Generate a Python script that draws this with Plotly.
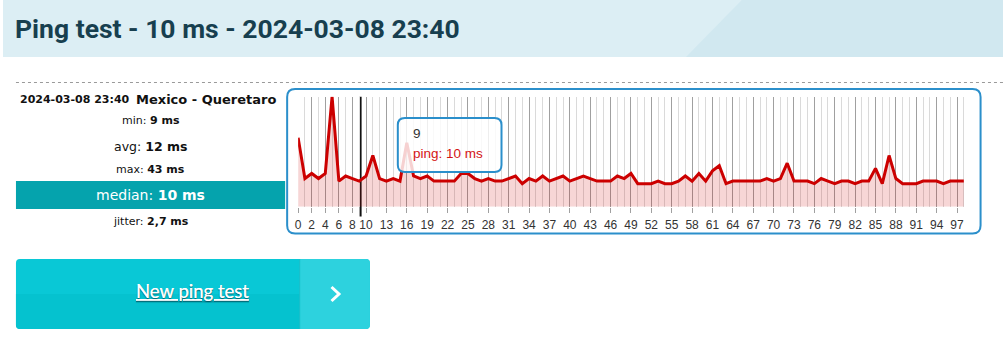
import plotly.graph_objects as go

W, H = 1003, 339

# ---------------- data ----------------
ping_ms = [27, 11, 13, 11, 13, 43, 10, 12, 11, 10,
           12, 20, 11, 10, 11, 10, 25, 12, 11, 12,
           10, 10, 10, 10, 13, 13, 11, 10, 11, 10,
           10, 11, 12, 9, 11, 10, 12, 10, 11, 12,
           10, 11, 12, 11, 10, 10, 10, 12, 11, 13,
           9, 9, 9, 10, 9, 9, 10, 12, 10, 13,
           10, 14, 16, 9, 10, 10, 10, 10, 10, 11,
           10, 11, 17, 10, 10, 10, 9, 11, 10, 9,
           10, 10, 9, 10, 10, 15, 9, 20, 11, 9,
           9, 9, 10, 10, 10, 9, 10, 10, 10]
ping_index = list(range(len(ping_ms)))
slot_count = 100
tick_labels = [0, 2, 4, 6, 8, 10, 13, 16, 19, 22, 25, 28, 31, 34, 37, 40, 43, 46,
               49, 52, 55, 58, 61, 64, 67, 70, 73, 76, 79, 82, 85, 88, 91, 94, 97]
hover_index = 9
hover_value = ping_ms[hover_index]

title_text = "Ping test - 10 ms - 2024-03-08 23:40"
test_time = "2024-03-08 23:40"
location = "Mexico - Queretaro"
stat_min, stat_avg, stat_max, stat_median, stat_jitter = "9 ms", "12 ms", "43 ms", "10 ms", "2,7 ms"
button_text = "New ping test"


# ---------------- helpers (pixel -> paper) ----------------
def fx(x):
    return x / W


def fy(y):
    return 1 - y / H


def pt(x, y):
    return f"{fx(x):.5f},{fy(y):.5f}"


def rrect(x0, y0, x1, y1, rtl, rtr=None, rbr=None, rbl=None):
    rtr = rtl if rtr is None else rtr
    rbr = rtl if rbr is None else rbr
    rbl = rtl if rbl is None else rbl
    return (f"M {pt(x0 + rtl, y0)} L {pt(x1 - rtr, y0)} Q {pt(x1, y0)} {pt(x1, y0 + rtr)} "
            f"L {pt(x1, y1 - rbr)} Q {pt(x1, y1)} {pt(x1 - rbr, y1)} "
            f"L {pt(x0 + rbl, y1)} Q {pt(x0, y1)} {pt(x0, y1 - rbl)} "
            f"L {pt(x0, y0 + rtl)} Q {pt(x0, y0)} {pt(x0 + rtl, y0)} Z")


shapes = []
annotations = []


def ann(text, x, y, size, color="#111", family="DejaVu Sans", xanchor="center", yanchor="middle", weight=None, **kw):
    f = dict(size=size, color=color, family=family)
    if weight:
        f["weight"] = weight
    f.update(kw.pop("fontextra", {}))
    annotations.append(dict(text=text, x=fx(x), y=fy(y), xref="paper", yref="paper",
                            showarrow=False, xanchor=xanchor, yanchor=yanchor, font=f, **kw))


# header band
shapes.append(dict(type="rect", xref="paper", yref="paper", x0=0, x1=1, y0=fy(57), y1=1,
                   fillcolor="#DCEEF4", line=dict(width=0), layer="below"))
shapes.append(dict(type="path", xref="paper", yref="paper",
                   path=f"M {pt(685, 57)} L {pt(741, 0)} L {pt(1003, 0)} L {pt(1003, 57)} Z",
                   fillcolor="#D1E8F0", line=dict(width=0), layer="below"))
ann(title_text, 10, 29, 26.5, color="#173F4F", family="Roboto", xanchor="left", weight=700)

# dotted separator
shapes.append(dict(type="line", xref="paper", yref="paper", x0=fx(13), x1=1, y0=fy(82.5), y1=fy(82.5),
                   line=dict(color="#9A9A9A", width=1, dash="dot"), layer="below"))

# left stats panel
ann(f"<b>{test_time}</b>", 129, 100, 11, color="#111", xanchor="right")
ann(f"<b>{location}</b>", 131, 99.5, 13, color="#111", xanchor="left")
ann(f"min: <b>{stat_min}</b>", 148, 120.5, 11)
ann(f"avg: <b>{stat_avg}</b>", 148, 146, 12.5)
ann(f"max: <b>{stat_max}</b>", 148, 169.5, 11)
shapes.append(dict(type="rect", xref="paper", yref="paper", x0=fx(13), x1=fx(283), y0=fy(209), y1=fy(181),
                   fillcolor="#05A3AD", line=dict(width=0), layer="below"))
ann(f"median: <b>{stat_median}</b>", 148, 195, 14, color="#FFFFFF")
ann(f"jitter: <b>{stat_jitter}</b>", 148, 221, 11)

# chart box
shapes.append(dict(type="path", xref="paper", yref="paper", path=rrect(285, 89, 980.5, 233.5, 8),
                   fillcolor="rgba(0,0,0,0)", line=dict(color="#2B8FCB", width=2), layer="below"))

# hover crosshair
shapes.append(dict(type="line", xref="x", yref="paper", x0=hover_index + 0.2, x1=hover_index + 0.2,
                   y0=fy(216.5), y1=fy(96.7), line=dict(color="#111111", width=2), layer="between"))

# tooltip
shapes.append(dict(type="path", xref="paper", yref="paper", path=rrect(396, 118, 500, 172, 7),
                   fillcolor="rgba(255,255,255,0.82)", line=dict(color="#2B8FCB", width=2), layer="above"))
ann(str(hover_index), 409, 133.5, 13.5, color="#333333", family="Liberation Sans", xanchor="left")
ann(f"ping: {hover_value} ms", 409, 153.5, 13.5, color="#D41414", family="Liberation Sans", xanchor="left")

# button
shapes.append(dict(type="path", xref="paper", yref="paper", path=rrect(13, 259, 368, 329, 4),
                   fillcolor="#09C8D6", line=dict(width=0), layer="below"))
shapes.append(dict(type="path", xref="paper", yref="paper", path=rrect(13, 294, 298, 329, 0, 0, 0, 4),
                   fillcolor="#05C2CF", line=dict(width=0), layer="below"))
shapes.append(dict(type="path", xref="paper", yref="paper", path=rrect(298, 259, 368, 329, 0, 4, 4, 0),
                   fillcolor="#2DD2DE", line=dict(width=0), layer="below"))
shapes.append(dict(type="line", xref="paper", yref="paper", x0=fx(297.5), x1=fx(297.5), y0=fy(259), y1=fy(329),
                   line=dict(color="#1BBFCB", width=1), layer="below"))
ann(f"<u>{button_text}</u>", 190, 291, 18.5, color="#FFFFFF", family="Lato",
    fontextra=dict(shadow="0px 1px 1px rgba(0,60,70,0.45)"))
shapes.append(dict(type="path", xref="paper", yref="paper",
                   path=f"M {pt(329.5, 287)} L {pt(337, 294)} L {pt(329.5, 301)}",
                   line=dict(color="#FFFFFF", width=3), layer="above"))

# ---------------- figure ----------------
fig = go.Figure()
fig.add_trace(go.Scatter(
    x=ping_index, y=ping_ms, mode="lines", fill="tozeroy",
    line=dict(color="#CC0000", width=3), fillcolor="rgba(204,0,0,0.16)",
    name="ping", hoverinfo="skip",
))

fig.update_layout(
    width=W, height=H,
    margin=dict(l=0, r=0, t=0, b=0),
    paper_bgcolor="#FFFFFF", plot_bgcolor="rgba(0,0,0,0)",
    showlegend=False,
    shapes=shapes, annotations=annotations,
    xaxis=dict(
        domain=[fx(296), fx(970.5)], range=[0, slot_count - 1],
        tickmode="array", tickvals=tick_labels, ticktext=[str(t) for t in tick_labels],
        ticks="outside", ticklen=5, tickwidth=1, tickcolor="#A0A0A0",
        showgrid=True, gridcolor="#A0A0A0", gridwidth=1,
        minor=dict(tickmode="linear", tick0=0, dtick=1, showgrid=True, gridcolor="#DADADA", gridwidth=1, ticks=""),
        zeroline=False, showline=False,
        tickfont=dict(family="Liberation Sans", size=12, color="#333333"),
        ticklabelstandoff=2,
        fixedrange=True,
    ),
    yaxis=dict(
        domain=[fy(206.7), fy(96.7)], range=[0, 43],
        showgrid=False, zeroline=False, showticklabels=False, ticks="", fixedrange=True,
    ),
    hovermode=False,
)

fig.write_html("out.html")
